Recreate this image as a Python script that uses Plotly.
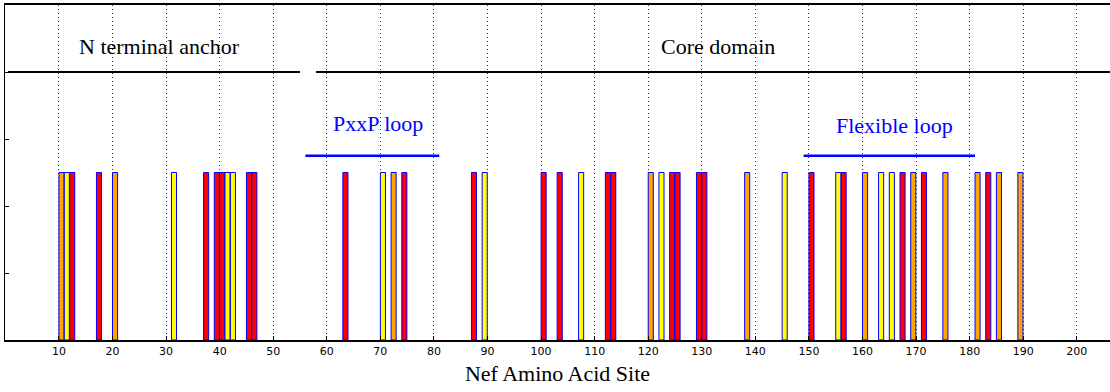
import plotly.graph_objects as go

# Nef amino acid sites, grouped by bar colour
sites_red = [12, 17, 37, 39, 40, 45, 46, 63, 74, 87, 100, 103, 112, 113, 124, 125,
             129, 130, 150, 156, 167, 171, 183]
sites_orange = [10, 20, 72, 120, 138, 160, 169, 175, 181, 185, 189]
sites_yellow = [11, 31, 41, 42, 70, 89, 107, 122, 145, 155, 163, 165]
bar_height = 0.5

# Domain / region annotations
region_names = ["N terminal anchor", "Core domain", "PxxP loop", "Flexible loop"]
region_start = [0.5, 58, 56, 149]
region_end = [55, 206.5, 81, 181]
region_level = [0.8, 0.8, 0.55, 0.55]
region_label_y = [0.877, 0.877, 0.645, 0.64]
region_colors = ["black", "black", "blue", "blue"]
region_widths = [2, 2, 2.5, 2.5]

x_ticks = list(range(10, 201, 10))

fig = go.Figure()

for sites, col in [(sites_red, "#ff0000"), (sites_orange, "#ffa500"), (sites_yellow, "#ffff00")]:
    fig.add_trace(go.Bar(
        x=sites, y=[bar_height] * len(sites), width=0.95, offset=0,
        marker=dict(color=col, line=dict(color="#0000ff", width=1)),
        showlegend=False, hoverinfo="x",
    ))

for name, s, e, lvl, ly, c, w in zip(region_names, region_start, region_end,
                                     region_level, region_label_y, region_colors, region_widths):
    fig.add_trace(go.Scatter(x=[s, e], y=[lvl, lvl], mode="lines",
                             line=dict(color=c, width=w), showlegend=False, hoverinfo="skip"))
    fig.add_annotation(x=(s + min(e, 206)) / 2 + 1, y=ly, text=name, showarrow=False,
                       xanchor="center", yanchor="middle",
                       font=dict(family="Liberation Serif", size=22, color=c))

fig.update_layout(
    width=1110, height=392,
    margin=dict(l=5, r=0, t=5, b=52),
    plot_bgcolor="white", paper_bgcolor="white",
    barmode="overlay",
    xaxis=dict(
        range=[-0.07, 206.2], tickvals=x_ticks, ticktext=[str(t) for t in x_ticks],
        showgrid=True, gridcolor="rgba(0,0,0,0.8)", griddash="1px,3px", gridwidth=1,
        showline=True, linecolor="black", linewidth=1.5, mirror=True,
        ticks="inside", ticklen=4, tickcolor="black",
        tickfont=dict(family="DejaVu Sans", size=11, color="black"),
        zeroline=False, automargin=False,
        title=dict(text="Nef Amino Acid Site", standoff=9,
                   font=dict(family="Liberation Serif", size=22, color="black")),
    ),
    yaxis=dict(
        range=[0, 1], tickvals=[0, 0.2, 0.4, 0.6, 0.8, 1.0], showticklabels=False,
        ticks="inside", ticklen=4, tickcolor="black",
        showgrid=False, zeroline=False, automargin=False,
        showline=True, linecolor="black", linewidth=1,
    ),
)

fig.write_html("out.html", config={"displayModeBar": False},
               post_script="document.body.style.margin='0';document.body.style.overflow='hidden';")
